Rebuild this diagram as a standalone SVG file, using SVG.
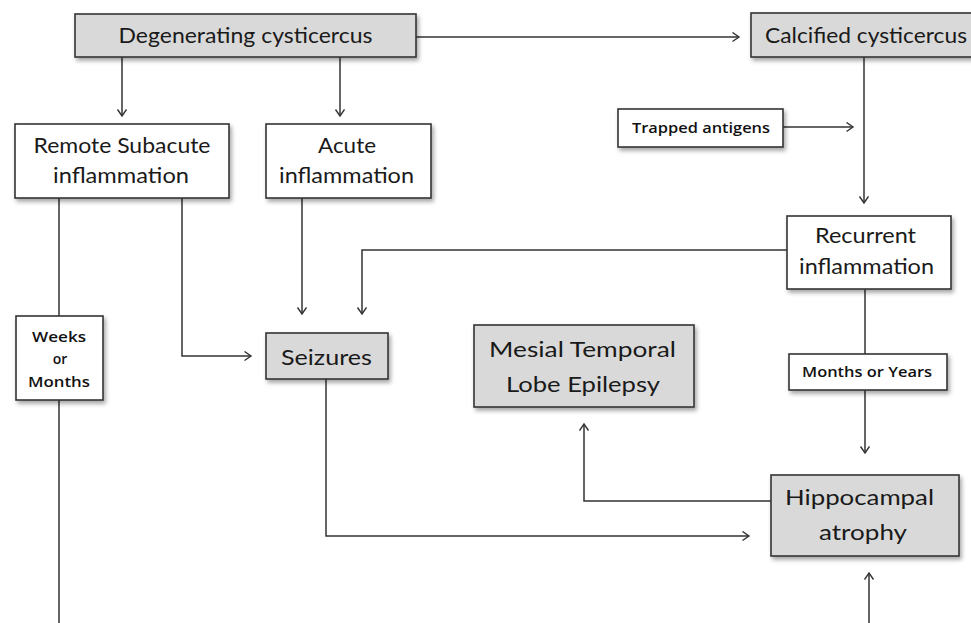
<svg xmlns="http://www.w3.org/2000/svg" width="971" height="623" viewBox="0 0 971 623">
<defs>
<filter id="sh" x="-10%" y="-10%" width="130%" height="140%">
<feDropShadow dx="2" dy="3" stdDeviation="2" flood-color="#000" flood-opacity="0.35"/>
</filter>
<marker id="ah" markerUnits="userSpaceOnUse" markerWidth="12" markerHeight="12" refX="7" refY="5" orient="auto">
<path d="M0.5,0.5 L7,5 L0.5,9.5" fill="none" stroke="#333" stroke-width="1.4"/>
</marker>
</defs>
<style>
.box{fill:#fff;stroke:#333;stroke-width:1.6;filter:url(#sh)}
.gray{fill:#d9d9d9}
.t{font-family:Lato,"Open Sans","Liberation Sans",sans-serif;font-size:22px;fill:#1a1a1a;text-anchor:middle}
.s{font-family:"Open Sans","Liberation Sans",sans-serif;font-size:14px;font-weight:600;fill:#111;text-anchor:middle}
.c{fill:none;stroke:#333;stroke-width:1.5}
.a{marker-end:url(#ah)}
</style>
<rect width="971" height="623" fill="#fff"/>
<g id="connectors">
<path class="c a" d="M416,37 H739"/>
<path class="c a" d="M122,57 V116"/>
<path class="c a" d="M340,57 V116"/>
<path class="c" d="M59,198 V316"/>
<path class="c" d="M59,400 V623"/>
<path class="c a" d="M182,198 V356 H251"/>
<path class="c a" d="M302,198 V314"/>
<path class="c a" d="M787,250 H362 V314"/>
<path class="c a" d="M326,379 V536 H749"/>
<path class="c a" d="M864,57 V203"/>
<path class="c a" d="M783,127 H853"/>
<path class="c" d="M865,289 V354"/>
<path class="c a" d="M865,390 V453"/>
<path class="c a" d="M771,501 H584 V424"/>
<path class="c a" d="M869,623 V573"/>
</g>
<g id="degenerating">
<rect class="box gray" x="75" y="14" width="341" height="43"/>
<text class="t" x="245.5" y="43" textLength="254" lengthAdjust="spacingAndGlyphs">Degenerating cysticercus</text>
</g>
<g id="calcified">
<rect class="box gray" x="751" y="13" width="230" height="44"/>
<text class="t" x="765" y="43" style="text-anchor:start" textLength="202" lengthAdjust="spacingAndGlyphs">Calcified cysticercus</text>
</g>
<g id="remote">
<rect class="box" x="15" y="124" width="214" height="74"/>
<text class="t" x="122" y="153" textLength="177" lengthAdjust="spacingAndGlyphs">Remote Subacute</text>
<text class="t" x="121" y="183" textLength="136" lengthAdjust="spacingAndGlyphs">inflammation</text>
</g>
<g id="acute">
<rect class="box" x="266" y="124" width="165" height="74"/>
<text class="t" x="347" y="153" textLength="58" lengthAdjust="spacingAndGlyphs">Acute</text>
<text class="t" x="346.5" y="183" textLength="135" lengthAdjust="spacingAndGlyphs">inflammation</text>
</g>
<g id="trapped">
<rect class="box" x="618" y="109" width="165" height="38"/>
<text class="s" x="701" y="133" textLength="138" lengthAdjust="spacingAndGlyphs">Trapped antigens</text>
</g>
<g id="recurrent">
<rect class="box" x="787" y="216" width="164" height="73"/>
<text class="t" x="865.5" y="243" textLength="101" lengthAdjust="spacingAndGlyphs">Recurrent</text>
<text class="t" x="866.5" y="274" textLength="135" lengthAdjust="spacingAndGlyphs">inflammation</text>
</g>
<g id="weeks">
<rect class="box" x="16" y="316" width="87" height="84"/>
<text class="s" x="59" y="342" textLength="54" lengthAdjust="spacingAndGlyphs">Weeks</text>
<text class="s" x="60" y="364">or</text>
<text class="s" x="59" y="387" textLength="62" lengthAdjust="spacingAndGlyphs">Months</text>
</g>
<g id="seizures">
<rect class="box gray" x="266" y="333" width="122" height="46"/>
<text class="t" x="326.5" y="365" font-size="24" textLength="91" lengthAdjust="spacingAndGlyphs">Seizures</text>
</g>
<g id="mesial">
<rect class="box gray" x="474" y="325" width="220" height="82"/>
<text class="t" x="582.5" y="357" textLength="187" lengthAdjust="spacingAndGlyphs">Mesial Temporal</text>
<text class="t" x="583" y="392" textLength="154" lengthAdjust="spacingAndGlyphs">Lobe Epilepsy</text>
</g>
<g id="months-years">
<rect class="box" x="789" y="354" width="158" height="36"/>
<text class="s" x="867" y="377" textLength="130" lengthAdjust="spacingAndGlyphs">Months or Years</text>
</g>
<g id="hippocampal">
<rect class="box gray" x="771" y="475" width="188" height="81"/>
<text class="t" x="859.5" y="505" textLength="149" lengthAdjust="spacingAndGlyphs">Hippocampal</text>
<text class="t" x="863" y="540" textLength="88" lengthAdjust="spacingAndGlyphs">atrophy</text>
</g>
</svg>
